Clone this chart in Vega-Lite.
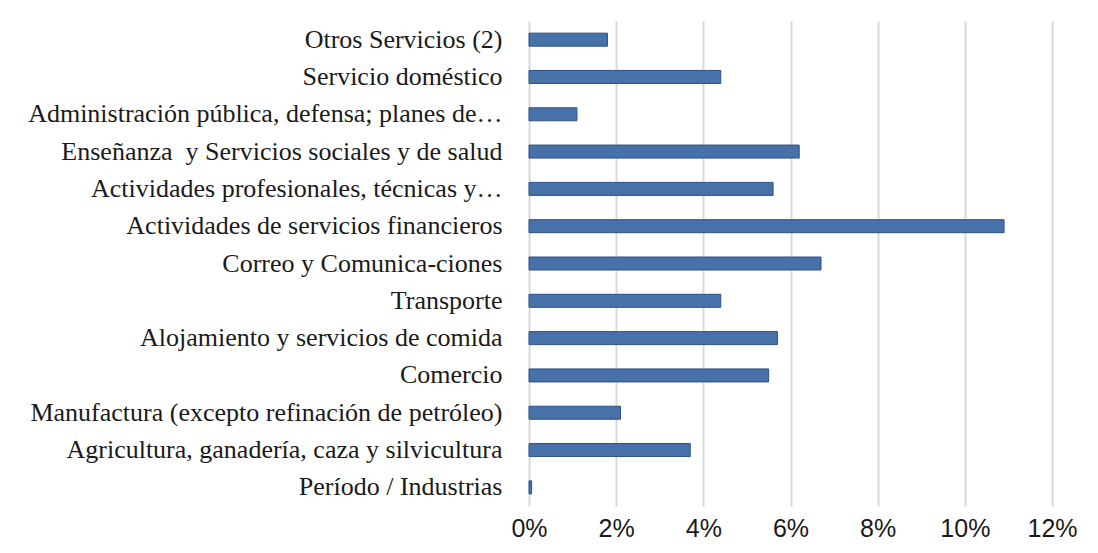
{
  "$schema": "https://vega.github.io/schema/vega-lite/v6.json",
  "autosize": "none",
  "width": 523,
  "height": 485,
  "padding": {"left": 529, "top": 21, "right": 46, "bottom": 47},
  "background": "white",
  "config": {"view": {"stroke": null}},
  "data": {"values": [
    {"sector": "Otros Servicios (2)", "valor": 0.018},
    {"sector": "Servicio doméstico", "valor": 0.044},
    {"sector": "Administración pública, defensa; planes de…", "valor": 0.011},
    {"sector": "Enseñanza\u00a0 y Servicios sociales y de salud", "valor": 0.062},
    {"sector": "Actividades profesionales, técnicas y…", "valor": 0.056},
    {"sector": "Actividades de servicios financieros", "valor": 0.109},
    {"sector": "Correo y Comunica-ciones", "valor": 0.067},
    {"sector": "Transporte", "valor": 0.044},
    {"sector": "Alojamiento y servicios de comida\u00a0", "valor": 0.057},
    {"sector": "Comercio", "valor": 0.055},
    {"sector": "Manufactura (excepto refinación de petróleo)", "valor": 0.021},
    {"sector": "Agricultura, ganadería, caza y silvicultura", "valor": 0.037},
    {"sector": "Período / Industrias", "valor": 0.0006}
  ]},
  "mark": {"type": "bar", "color": "#4672a9", "stroke": "#2d5285", "strokeWidth": 1, "height": 13},
  "encoding": {
    "y": {
      "field": "sector", "type": "nominal", "sort": null, "title": null,
      "scale": {"paddingInner": 0.6, "paddingOuter": 0.3},
      "axis": {"domain": false, "ticks": false, "labelPadding": 27, "labelFont": "Liberation Serif", "labelFontSize": 26, "labelColor": "#1a1a1a", "labelLimit": 600}
    },
    "x": {
      "field": "valor", "type": "quantitative", "title": null,
      "scale": {"domain": [0, 0.12], "nice": false},
      "axis": {"format": ".0%", "values": [0, 0.02, 0.04, 0.06, 0.08, 0.1, 0.12], "domain": false, "ticks": false, "grid": true, "gridColor": "#d9d9d9", "gridWidth": 2, "labelPadding": 10, "labelFont": "Liberation Sans", "labelFontSize": 25, "labelColor": "#1a1a1a", "labelFlush": false}
    }
  }
}
